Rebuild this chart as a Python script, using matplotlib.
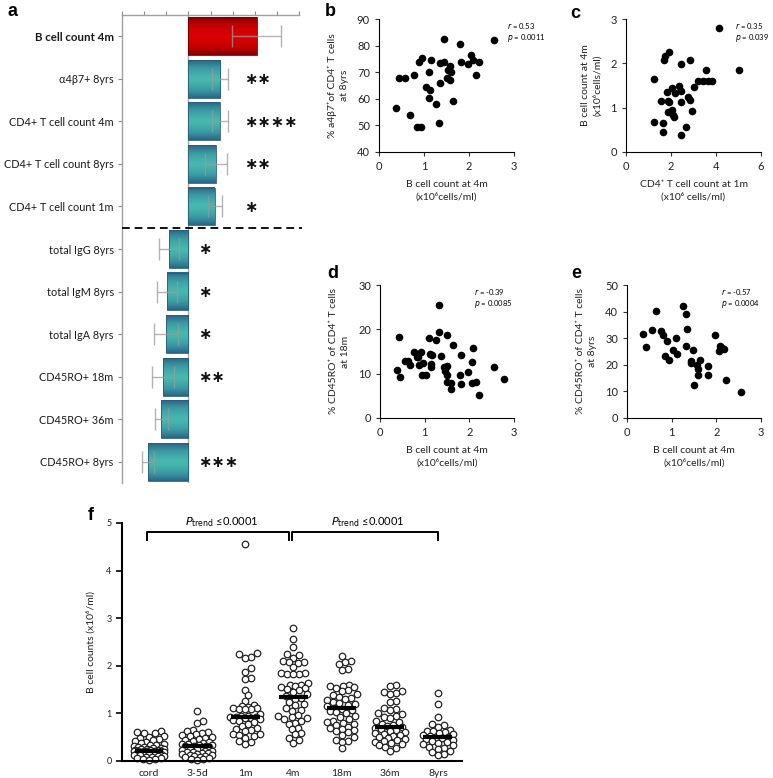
import numpy as np
import matplotlib
matplotlib.use("Agg")
import matplotlib.pyplot as plt
from matplotlib.colors import LinearSegmentedColormap

plt.rcParams['font.family'] = ['Lato', 'DejaVu Sans']

# ---- panel a: effect sizes
a_labels = ['B cell count 4m', 'α4β7+ 8yrs', 'CD4+ T cell count 4m', 'CD4+ T cell count 8yrs',
            'CD4+ T cell count 1m', 'total IgG 8yrs', 'total IgM 8yrs', 'total IgA 8yrs',
            'CD45RO+ 18m', 'CD45RO+ 36m', 'CD45RO+ 8yrs']
a_values = [3.09, 1.45, 1.41, 1.23, 1.22, -0.86, -0.95, -1.0, -1.14, -1.23, -1.82]
a_errors = [1.1, 0.36, 0.36, 0.5, 0.32, 0.45, 0.45, 0.55, 0.5, 0.3, 0.27]
a_stars = ['', '**', '****', '**', '*', '*', '*', '*', '**', '', '***']

# ---- panel b
b_x = [0.37, 0.45, 0.57, 0.68, 0.78, 0.85, 0.88, 0.93, 0.96, 1.05, 1.1, 1.1, 1.13, 1.15, 1.27, 1.33,
       1.35, 1.36, 1.44, 1.45, 1.5, 1.53, 1.57, 1.58, 1.59, 1.64, 1.8, 1.82, 1.97, 2.05, 2.08, 2.15,
       2.22, 2.56]
b_y = [56.5, 68, 67.7, 54, 69, 49.5, 74, 49.5, 75.2, 64.5, 70, 60.3, 63.3, 74.4, 58.2, 51,
       73.4, 65.8, 73.8, 82.5, 68, 71, 67.2, 72.3, 70, 59, 80.7, 74, 73.2, 76.5, 74.5, 69,
       74, 82]

# ---- panel c
c_x = [1.24, 1.23, 1.63, 1.63, 1.54, 1.72, 1.69, 1.9, 1.8, 1.88, 1.9, 1.87, 2.03, 2.06, 2.1, 2.12,
       2.18, 2.34, 2.43, 2.46, 2.46, 2.44, 2.68, 2.76, 2.83, 2.84, 2.93, 3.0, 3.19, 3.44, 3.66,
       3.82, 3.54, 4.12, 5.0]
c_y = [1.65, 0.68, 0.65, 0.45, 1.16, 2.17, 2.07, 2.26, 1.35, 1.16, 1.12, 0.9, 1.45, 0.95, 0.83, 0.8,
       1.33, 1.5, 1.38, 1.98, 1.12, 0.39, 0.56, 1.25, 1.18, 2.08, 0.93, 1.46, 1.61, 1.61, 1.61,
       1.61, 1.85, 2.8, 1.84]

# ---- panel d
d_x = [0.38, 0.45, 0.43, 0.56, 0.63, 0.67, 0.77, 0.82, 0.86, 0.87, 0.92, 0.95, 0.97, 1.04, 1.09,
       1.12, 1.17, 1.15, 1.14, 1.26, 1.33, 1.32, 1.36, 1.44, 1.46, 1.49, 1.5, 1.51, 1.49, 1.58,
       1.59, 1.64, 1.82, 1.8, 1.82, 1.97, 2.06, 2.08, 2.06, 2.16, 2.22, 2.55, 2.78]
d_y = [10.75, 9.3, 18.2, 12.9, 12.9, 11.9, 14.9, 13.7, 13.7, 12, 15, 9.6, 12.3, 9.6, 18,
       14.4, 14.2, 12.2, 11.4, 17.6, 25.5, 19.5, 14, 11.5, 10.7, 18.7, 11.7, 9.6, 8.2, 8,
       6.5, 16.4, 14.1, 9.8, 7.6, 10.4, 12.6, 15.7, 8, 8.2, 5.3, 11.6, 8.8]

# ---- panel e
e_x = [0.36, 0.42, 0.55, 0.65, 0.76, 0.8, 0.85, 0.9, 0.95, 1.04, 1.1, 1.13, 1.25, 1.31, 1.34, 1.32,
       1.48, 1.44, 1.44, 1.5, 1.57, 1.58, 1.58, 1.63, 1.81, 1.81, 1.96, 2.06, 2.09, 2.12, 2.17,
       2.21, 2.56]
e_y = [31.6, 26.8, 33.1, 40.4, 32.6, 31.3, 23.3, 28.8, 21.8, 25.6, 30.1, 24.1, 42.2, 39, 33.6, 26.9,
       25.6, 21.3, 20.6, 12.3, 20, 16, 18.4, 21.9, 19.7, 16, 31.2, 25.1, 27.2, 26.4, 25.8,
       14.3, 9.9]

# ---- panel f
f_groups = ['cord', '3-5d', '1m', '4m', '18m', '36m', '8yrs']
f_cord = [0.64, 0.60, 0.59, 0.58, 0.52, 0.50, 0.48, 0.47, 0.45, 0.42, 0.40, 0.38, 0.36, 0.34, 0.33,
          0.32, 0.30, 0.29, 0.28, 0.27, 0.26, 0.25, 0.25, 0.24, 0.23, 0.23, 0.22, 0.22, 0.21, 0.21,
          0.20, 0.20, 0.19, 0.19, 0.18, 0.18, 0.17, 0.16, 0.15, 0.15, 0.14, 0.13, 0.12, 0.11, 0.10,
          0.09, 0.08, 0.07, 0.06, 0.05, 0.04, 0.03]
f_35d = [1.06, 0.84, 0.80, 0.65, 0.62, 0.60, 0.58, 0.56, 0.55, 0.52, 0.50, 0.48, 0.46, 0.44, 0.42,
         0.40, 0.38, 0.36, 0.35, 0.34, 0.33, 0.32, 0.32, 0.31, 0.30, 0.29, 0.28, 0.26, 0.24, 0.22,
         0.20, 0.19, 0.18, 0.17, 0.16, 0.15, 0.14, 0.13, 0.12, 0.11, 0.10, 0.09, 0.08, 0.07, 0.05,
         0.04, 0.03]
f_1m = [4.55, 2.26, 2.24, 2.19, 2.16, 1.95, 1.87, 1.75, 1.72, 1.50, 1.38, 1.27, 1.17, 1.15, 1.13,
        1.12, 1.11, 1.10, 1.10, 1.09, 0.98, 0.95, 0.94, 0.93, 0.93, 0.92, 0.91, 0.90, 0.88, 0.86,
        0.85, 0.82, 0.78, 0.74, 0.70, 0.67, 0.66, 0.62, 0.57, 0.56, 0.55, 0.52, 0.48, 0.42, 0.40,
        0.35]
f_4m = [2.80, 2.56, 2.40, 2.25, 2.22, 2.17, 2.10, 2.08, 2.07, 2.06, 1.97, 1.85, 1.84, 1.83, 1.82,
        1.82, 1.63, 1.60, 1.59, 1.58, 1.56, 1.54, 1.52, 1.50, 1.46, 1.40, 1.36, 1.33, 1.30, 1.25,
        1.20, 1.17, 1.12, 1.08, 1.05, 0.97, 0.95, 0.92, 0.90, 0.88, 0.85, 0.80, 0.78, 0.69, 0.67,
        0.58, 0.56, 0.48, 0.44, 0.38]
f_18m = [2.21, 2.10, 2.08, 2.03, 1.94, 1.92, 1.60, 1.58, 1.57, 1.55, 1.54, 1.50, 1.48, 1.40, 1.38,
         1.35, 1.32, 1.30, 1.28, 1.25, 1.22, 1.20, 1.18, 1.15, 1.12, 1.10, 1.08, 1.05, 1.02, 1.00,
         0.95, 0.92, 0.88, 0.85, 0.82, 0.80, 0.78, 0.75, 0.72, 0.70, 0.68, 0.65, 0.62, 0.60, 0.55,
         0.50, 0.45, 0.42, 0.40, 0.27]
f_36m = [1.60, 1.57, 1.47, 1.45, 1.42, 1.40, 1.27, 1.25, 1.12, 1.10, 1.08, 1.00, 0.98, 0.95, 0.92,
         0.90, 0.85, 0.82, 0.78, 0.75, 0.73, 0.71, 0.70, 0.68, 0.65, 0.62, 0.60, 0.58, 0.56, 0.54,
         0.52, 0.50, 0.48, 0.46, 0.44, 0.42, 0.40, 0.38, 0.35, 0.33, 0.30, 0.28, 0.20]
f_8yrs = [1.43, 1.20, 0.92, 0.78, 0.76, 0.72, 0.65, 0.63, 0.62, 0.60, 0.58, 0.56, 0.54, 0.52, 0.50,
          0.49, 0.48, 0.46, 0.44, 0.42, 0.40, 0.38, 0.35, 0.33, 0.30, 0.28, 0.25, 0.22, 0.18, 0.15,
          0.12]
f_values = [f_cord, f_35d, f_1m, f_4m, f_18m, f_36m, f_8yrs]
f_medians = [0.22, 0.32, 0.93, 1.35, 1.12, 0.71, 0.50]
f_trends = [(0, 2.9), (3.0, 6.0)]
f_trend_text = r'$P_{\mathrm{trend}}$ ≤0.0001'

W, H = 773, 778
fig = plt.figure(figsize=(W / 100, H / 100), dpi=100)


def px_axes(x0, y0, x1, y1):
    # axes from pixel box (top-left origin)
    return fig.add_axes([x0 / W, 1 - y1 / H, (x1 - x0) / W, (y1 - y0) / H])


# ================= panel a
ax = px_axes(122, 15, 299, 483)
n = len(a_labels)
teal = LinearSegmentedColormap.from_list('teal', ['#46b8ae', '#3a96a0', '#2b6587'])
red = LinearSegmentedColormap.from_list('red', ['#dc0000', '#c00000', '#850000'])
shade = np.abs(np.linspace(-1, 1, 64))[:, None] ** 1.4
bh = 0.89
ax.axvline(0, color='#a8a8a8', lw=1, zorder=1)
for i, v in enumerate(a_values):
    cm = red if i == 0 else teal
    ax.imshow(shade, cmap=cm, extent=[min(0, v), max(0, v), i + bh / 2, i - bh / 2],
              aspect='auto', interpolation='bilinear', zorder=2)
    ax.barh(i, v, height=bh, color='none', edgecolor='#6b0000' if i == 0 else '#2a5d78',
            lw=0.6, zorder=3)
ax.errorbar(a_values, np.arange(n), xerr=a_errors, fmt='none', ecolor='#9a9a9a',
            elinewidth=1, capsize=8, capthick=1, alpha=0.75, zorder=4)
for i, (v, s) in enumerate(zip(a_values, a_stars)):
    if s:
        sx = 2.5 if v > 0 else 0.45
        ax.text(sx, i + 0.02, '∗' * len(s), fontsize=11.5, fontweight='bold', ha='left',
                va='center', family='DejaVu Sans', color='#111111')
ax.plot([-3, 5.15], [4.5, 4.5], ls='--', color='#111111', lw=1.4, dashes=(4, 2.5),
        clip_on=False, zorder=5)
ax.set_xlim(-3, 5)
ax.set_ylim(n - 0.5, -0.5)
ax.set_yticks(range(n))
ax.set_yticklabels(a_labels, fontsize=7.8, color='#1a1a1a')
ax.get_yticklabels()[0].set_fontweight('bold')
ax.get_yticklabels()[0].set_fontsize(8.3)
ax.xaxis.tick_top()
ax.set_xticks(range(-3, 6))
ax.set_xticklabels([])
ax.tick_params(axis='x', length=3, color='#8a8a8a', width=0.8)
ax.tick_params(axis='y', length=3, color='#8a8a8a', width=0.8, pad=3)
for sp in ['bottom', 'right']:
    ax.spines[sp].set_visible(False)
for sp in ['top', 'left']:
    ax.spines[sp].set_color('#a0a0a0')
    ax.spines[sp].set_linewidth(1)
fig.text(8 / W, 1 - 12 / H, 'a', fontsize=13, fontweight='bold', family='Liberation Sans',
         va='center')


# ================= scatter panels
def scatter_panel(box, x, y, xlim, xticks, ylim, yticks, xlabel, ylabel, r_txt, p_txt, txt_x):
    sax = px_axes(*box)
    sax.scatter(x, y, s=20, color='black', clip_on=False, zorder=3)
    sax.set_xlim(*xlim)
    sax.set_ylim(*ylim)
    sax.set_xticks(xticks)
    sax.set_yticks(yticks)
    sax.tick_params(labelsize=8, length=3, width=0.8, color='#333333', labelcolor='#222222')
    for sp in ['top', 'right']:
        sax.spines[sp].set_visible(False)
    for sp in ['left', 'bottom']:
        sax.spines[sp].set_linewidth(0.8)
    sax.set_xlabel(xlabel, fontsize=7.5, color='#222222', linespacing=1.35, labelpad=6)
    sax.set_ylabel(ylabel, fontsize=7.5, color='#222222', linespacing=1.35, labelpad=6)
    sax.text(txt_x, 0.95, r_txt, transform=sax.transAxes, fontsize=5.5, ha='left', va='center')
    sax.text(txt_x, 0.855, p_txt, transform=sax.transAxes, fontsize=5.5, ha='left', va='center')
    return sax


bx_label = 'B cell count at 4m\n(x10⁶cells/ml)'
scatter_panel((379, 19, 514, 152), b_x, b_y, (0, 3), [0, 1, 2, 3], (40, 90), range(40, 91, 10),
              bx_label, '% a4β7⁺of CD4⁺ T cells\nat 8yrs', r'$r$ = 0.53', r'$p$ = 0.0011', 0.95)
scatter_panel((626, 19, 761, 152), c_x, c_y, (0, 6), [0, 2, 4, 6], (0, 3), [0, 1, 2, 3],
              'CD4⁺ T cell count at 1m\n(x10⁶ cells/ml)', 'B cell count at 4m\n(x10⁶cells/ml)',
              r'$r$ = 0.35', r'$p$ = 0.039', 0.81)
scatter_panel((380, 285, 514, 418), d_x, d_y, (0, 3), [0, 1, 2, 3], (0, 30), [0, 10, 20, 30],
              bx_label, '% CD45RO⁺ of CD4⁺ T cells\nat 18m', r'$r$ = -0.39', r'$p$ = 0.0085', 0.7)
scatter_panel((627, 285, 761, 418), e_x, e_y, (0, 3), [0, 1, 2, 3], (0, 50), range(0, 51, 10),
              bx_label, '% CD45RO⁺ of CD4⁺ T cells\nat 8yrs', r'$r$ = -0.57', r'$p$ = 0.0004', 0.7)
for lab, px, py in [('b', 325, 12), ('c', 570, 13), ('d', 327, 273), ('e', 571, 273)]:
    fig.text(px / W, 1 - py / H, lab, fontsize=13, fontweight='bold', family='Liberation Sans',
             va='center')

# ================= panel f
fx0, fy0, fx1, fy1 = 122, 523, 462, 761
axf = px_axes(fx0, fy0, fx1, fy1)
xlim_f = (-0.56, 6.5)
ylim_f = (0, 5)
ppx = (fx1 - fx0) / (xlim_f[1] - xlim_f[0])
ppy = (fy1 - fy0) / (ylim_f[1] - ylim_f[0])


def swarm(vals, diam=6.0, half_width=15.0, step=1.5):
    # greedy beeswarm in pixel space, offsets returned in data units
    vals = np.asarray(vals, dtype=float)
    order = np.argsort(vals)
    placed = []
    offs = np.zeros(len(vals))
    cands = [0.0]
    k = 1
    while k * step <= half_width:
        cands += [k * step, -k * step]
        k += 1
    for idx in order:
        yv = vals[idx] * ppy
        best, best_d = 0.0, -1
        for c in cands:
            dmin = min([np.hypot(c - px, yv - py) for px, py in placed] or [99])
            if dmin >= diam:
                best = c
                break
            if dmin > best_d:
                best, best_d = c, dmin
        placed.append((best, yv))
        offs[idx] = best / ppx
    return offs


for i, vals in enumerate(f_values):
    offs = swarm(vals)
    axf.scatter(i + offs, vals, s=22, facecolor='white', edgecolor='#222222', linewidth=0.9,
                clip_on=False, zorder=2)
    axf.plot([i - 0.3, i + 0.3], [f_medians[i]] * 2, color='black', lw=3, zorder=3,
             solid_capstyle='butt')
for (g0, g1) in f_trends:
    axf.plot([g0 - 0.04, g0 - 0.04, g1, g1], [4.64, 4.81, 4.81, 4.64], color='black', lw=1.4,
             clip_on=False)
    axf.text((g0 + g1) / 2 + 0.05, 5.02, f_trend_text, fontsize=8, ha='center', va='center')
axf.set_xlim(*xlim_f)
axf.set_ylim(*ylim_f)
axf.set_xticks(range(len(f_groups)))
axf.set_xticklabels(f_groups, fontsize=7.5, color='#222222')
axf.set_yticks(range(6))
axf.tick_params(axis='x', length=0, pad=6)
axf.tick_params(axis='y', length=4, width=1.2, labelsize=6.5, labelcolor='#222222')
for sp in ['top', 'right']:
    axf.spines[sp].set_visible(False)
for sp in ['left', 'bottom']:
    axf.spines[sp].set_linewidth(1.5)
axf.set_ylabel('B cell counts (x10⁶/ml)', fontsize=7.5, color='#222222', labelpad=8)
fig.text(88 / W, 1 - 515 / H, 'f', fontsize=13, fontweight='bold', family='Liberation Sans',
         va='center')

fig.savefig('out.png', dpi=100)
